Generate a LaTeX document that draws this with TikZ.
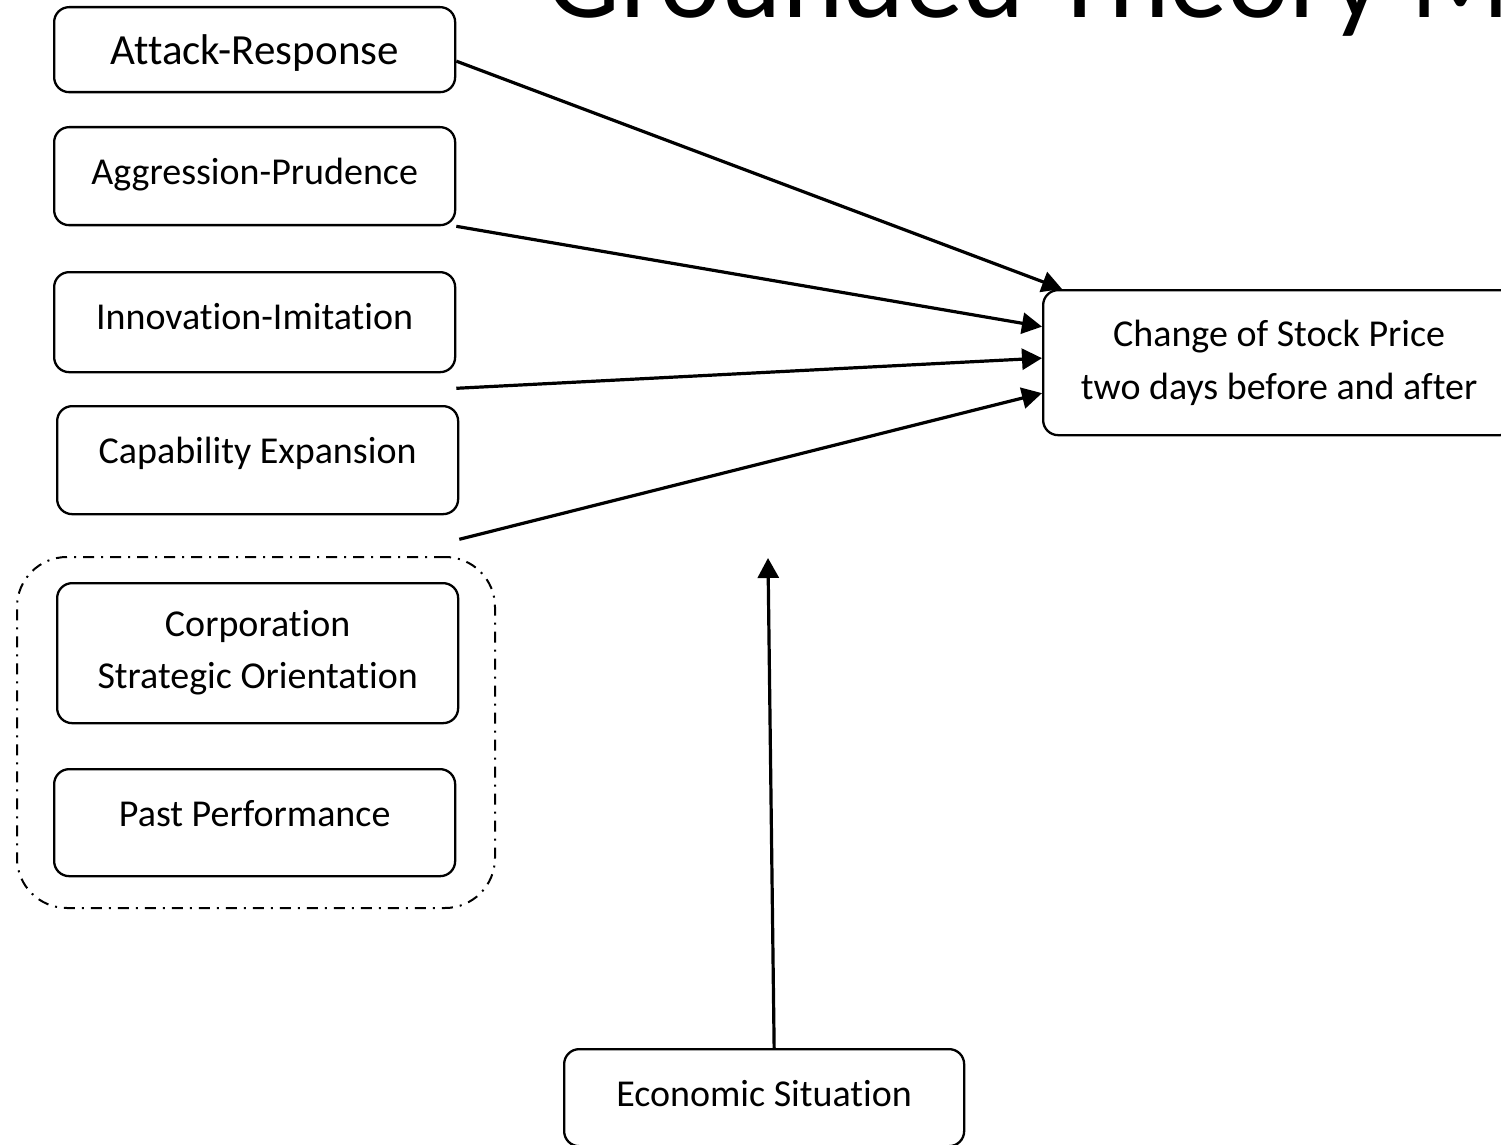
\documentclass[tikz,border=0pt]{standalone}
\usepackage{fontspec}
\setmainfont{Carlito}[Ligatures=NoCommon]
\usetikzlibrary{arrows.meta}

\begin{document}
\begin{tikzpicture}[x=0.5pt,y=-0.5pt]
  \tikzset{factorbox/.style={draw=black,line width=1.15pt,rounded corners=7.5pt,minimum width=200.5pt,inner ysep=0pt,anchor=north west,font=\fontsize{19}{26}\selectfont}}
  \tikzset{oneline/.style={text height=28.5pt,text depth=#1}}
  \tikzset{groupbox/.style={draw=black,line width=1pt,rounded corners=25pt,dash pattern=on 5.5pt off 3.5pt on 1pt off 3.5pt}}
  \tikzset{effectarrow/.style={draw=black,line width=1.6pt,-{Triangle[length=10pt,width=10.5pt]}}}

  \path[use as bounding box,clip] (0,0) rectangle (1501,1145);

  \node[anchor=base west,inner sep=0pt,font=\fontsize{58.5}{70}\selectfont] (title) at (546,18) {Grounded Theory M};

  \node[factorbox,oneline=14pt,font=\fontsize{21.5}{26}\selectfont] (attack) at (53,6) {Attack-Response};
  \node[factorbox,oneline=20.5pt] (aggression) at (53,126) {Aggression-Prudence};
  \node[factorbox,oneline=21.5pt] (innovation) at (53,271) {Innovation-Imitation};
  \node[factorbox,oneline=25.5pt] (capability) at (56,405) {Capability Expansion};

  \node[groupbox,minimum width=239pt,minimum height=175.5pt] (group) at (256,732.5) {};
  \node[factorbox,align=center,minimum height=70pt] (orientation) at (56,582) {Corporation\\Strategic Orientation};
  \node[factorbox,oneline=25pt]   (past)       at (53,768) {Past Performance};

  \node[factorbox,align=center,minimum width=236pt,minimum height=72.5pt,font=\fontsize{19}{26.5}\selectfont] (change) at (1042,289) {Change of Stock Price\\two days before and after};

  \node[factorbox,minimum width=200pt,oneline=20pt] (econ) at (563,1048) {Economic Situation};
  \coordinate (econtip) at (768,558);

  \draw[effectarrow] ([yshift=-5.75pt]attack.east) -- ([xshift=10pt]change.north west);
  \draw[effectarrow] (aggression.south east) -- ([yshift=18pt]change.west);
  \draw[effectarrow] ([yshift=-7.5pt]innovation.south east) -- ([yshift=2.25pt]change.west);
  \draw[effectarrow] ([yshift=-12pt]capability.south east) -- ([yshift=-15.25pt]change.west);

  \draw[effectarrow] ([xshift=5pt]econ.north) -- (econtip);
\end{tikzpicture}
\end{document}
